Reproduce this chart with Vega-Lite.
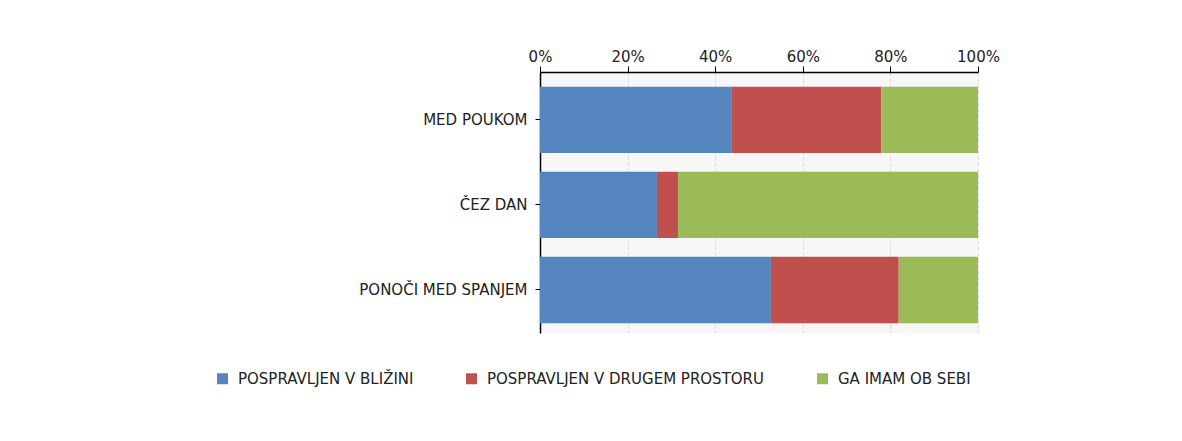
{
  "$schema": "https://vega.github.io/schema/vega-lite/v6.json",
  "autosize": "none",
  "width": 438,
  "height": 261,
  "padding": {"left": 540, "top": 72, "right": 204, "bottom": 108},
  "background": "white",
  "config": {
    "font": "DejaVu Sans",
    "view": {"fill": "#f7f7f7", "stroke": null}
  },
  "data": {
    "values": [
      {"kategorija": "MED POUKOM", "odgovor": "POSPRAVLJEN V BLIŽINI", "delež": 43.8},
      {"kategorija": "MED POUKOM", "odgovor": "POSPRAVLJEN V DRUGEM PROSTORU", "delež": 34.1},
      {"kategorija": "MED POUKOM", "odgovor": "GA IMAM OB SEBI", "delež": 22.1},
      {"kategorija": "ČEZ DAN", "odgovor": "POSPRAVLJEN V BLIŽINI", "delež": 26.7},
      {"kategorija": "ČEZ DAN", "odgovor": "POSPRAVLJEN V DRUGEM PROSTORU", "delež": 4.8},
      {"kategorija": "ČEZ DAN", "odgovor": "GA IMAM OB SEBI", "delež": 68.5},
      {"kategorija": "PONOČI MED SPANJEM", "odgovor": "POSPRAVLJEN V BLIŽINI", "delež": 52.7},
      {"kategorija": "PONOČI MED SPANJEM", "odgovor": "POSPRAVLJEN V DRUGEM PROSTORU", "delež": 29.2},
      {"kategorija": "PONOČI MED SPANJEM", "odgovor": "GA IMAM OB SEBI", "delež": 18.1}
    ]
  },
  "transform": [
    {"calculate": "indexof(['POSPRAVLJEN V BLIŽINI','POSPRAVLJEN V DRUGEM PROSTORU','GA IMAM OB SEBI'], datum.odgovor)", "as": "vrstni_red"}
  ],
  "mark": {"type": "bar"},
  "encoding": {
    "y": {
      "field": "kategorija",
      "type": "nominal",
      "sort": null,
      "scale": {"paddingInner": 0.22, "paddingOuter": 0.145, "align": 0.6},
      "axis": {
        "title": null,
        "labelFontSize": 15,
        "labelColor": "#222222",
        "labelPadding": 8,
        "tickSize": 5,
        "tickColor": "#000000",
        "domainColor": "#000000",
        "domainWidth": 1.5,
        "grid": false
      }
    },
    "x": {
      "field": "delež",
      "type": "quantitative",
      "stack": "normalize",
      "scale": {"domain": [0, 1], "nice": false},
      "axis": {
        "orient": "top",
        "title": null,
        "format": ".0%",
        "values": [0, 0.2, 0.4, 0.6, 0.8, 1],
        "labelFontSize": 15,
        "labelColor": "#222222",
        "labelPadding": 2,
        "labelFlush": false,
        "labelBound": false,
        "labelOverlap": false,
        "tickSize": 6,
        "tickColor": "#000000",
        "domainColor": "#000000",
        "domainWidth": 1.5,
        "grid": true,
        "gridColor": "#dddddd",
        "gridDash": [4, 2]
      }
    },
    "color": {
      "field": "odgovor",
      "type": "nominal",
      "scale": {
        "domain": ["POSPRAVLJEN V BLIŽINI", "POSPRAVLJEN V DRUGEM PROSTORU", "GA IMAM OB SEBI"],
        "range": ["#5585be", "#c0504d", "#9bbb59"]
      },
      "legend": {
        "title": null,
        "orient": "none",
        "direction": "horizontal",
        "legendX": -325,
        "legendY": 299,
        "symbolType": "square",
        "symbolSize": 121,
        "symbolStrokeWidth": 0,
        "labelFontSize": 15,
        "labelColor": "#222222",
        "labelOffset": 8,
        "labelLimit": 400,
        "columnPadding": 50
      }
    },
    "order": {"field": "vrstni_red", "type": "quantitative"}
  }
}
